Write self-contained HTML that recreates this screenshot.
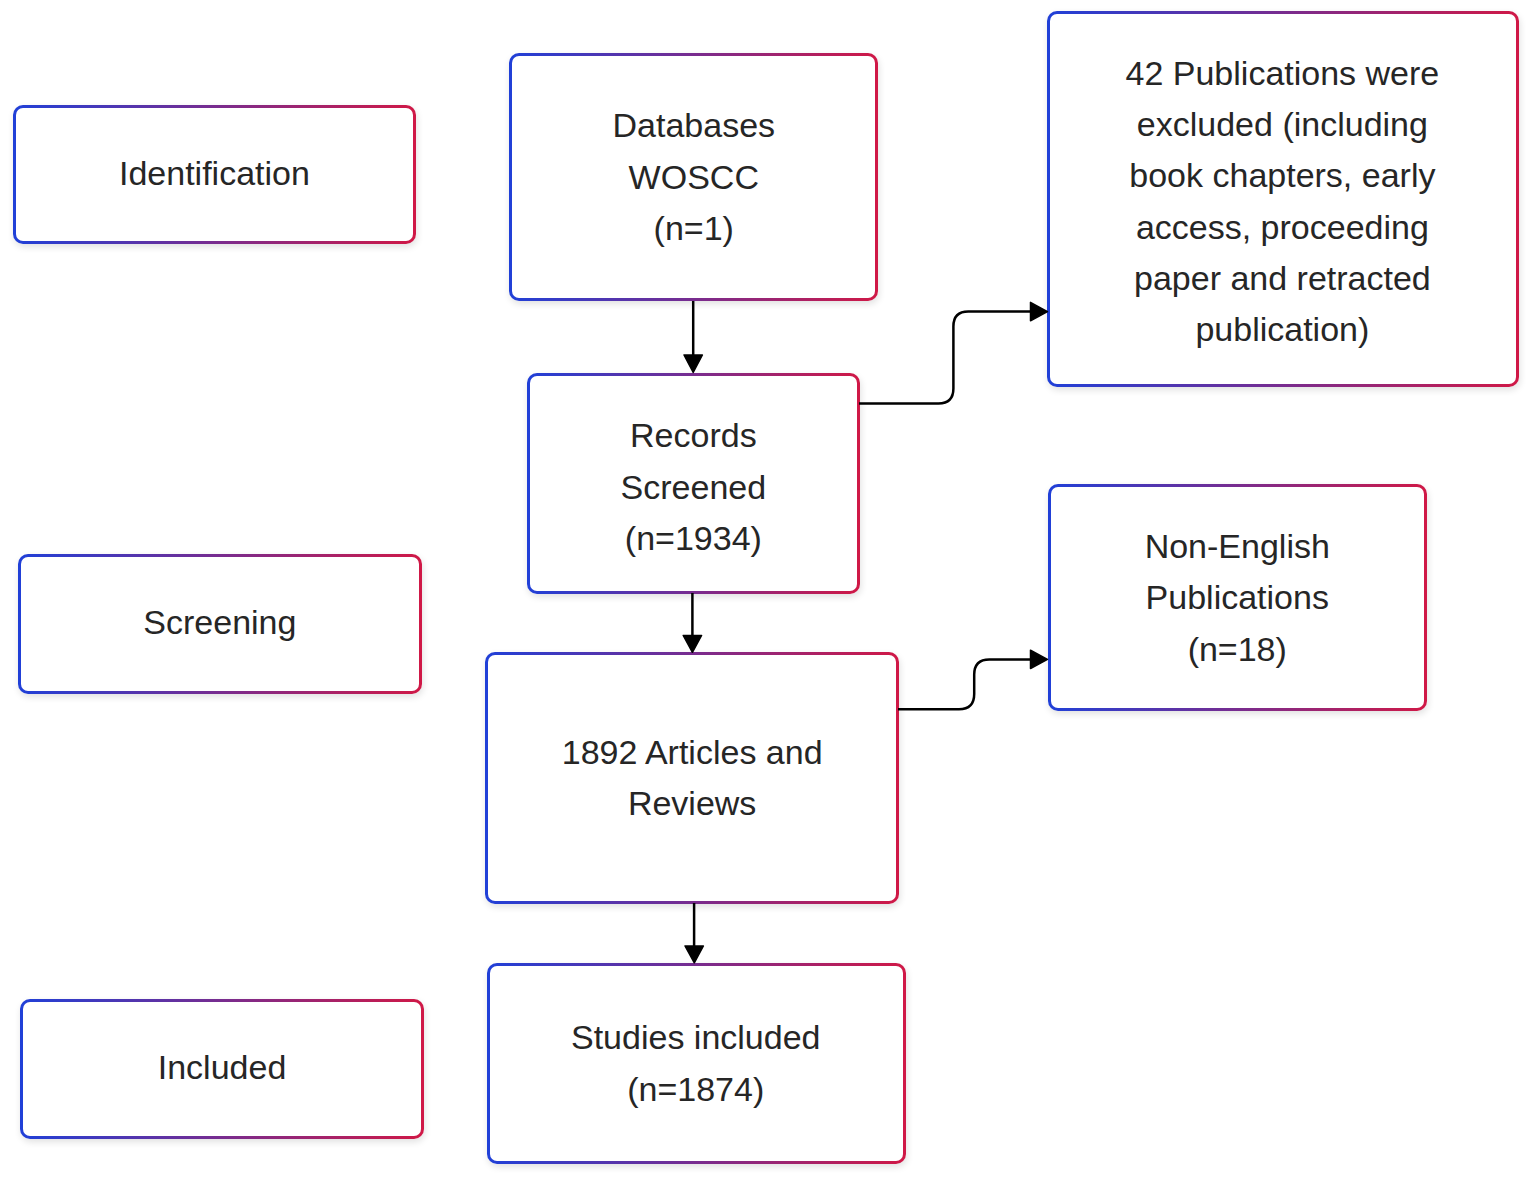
<!DOCTYPE html>
<html><head><meta charset="utf-8"><style>
html,body{margin:0;padding:0;background:#fff;}
body{width:1535px;height:1181px;position:relative;overflow:hidden;font-family:"Liberation Sans",sans-serif;}
.b{position:absolute;box-sizing:border-box;border:3px solid transparent;border-radius:10px;
background:linear-gradient(#fff,#fff) padding-box,linear-gradient(to right,#2040d8,#d01846) border-box;
box-shadow:1px 3px 7px rgba(0,0,0,0.12);display:flex;align-items:center;justify-content:center;text-align:center;
font-size:34px;line-height:51.3px;color:#262626;}
svg{position:absolute;left:0;top:0;}
#w{position:absolute;left:0;top:0;width:1535px;height:1181px;}
</style></head><body>
<div id="w"><div class="b" style="left:12.5px;top:105px;width:403.9px;height:138.5px"><div style="transform:translate(0px,-0.75px)">Identification</div></div><div class="b" style="left:17.6px;top:554.2px;width:404.6px;height:139.5px"><div style="transform:translate(0px,-1.2px)">Screening</div></div><div class="b" style="left:19.7px;top:999.2px;width:404.7px;height:139.5px"><div style="transform:translate(0px,-0.7px)">Included</div></div><div class="b" style="left:509.2px;top:53px;width:369.2px;height:248.4px"><div style="transform:translate(0px,-0.3px)">Databases<br>WOSCC<br>(n=1)</div></div><div class="b" style="left:527px;top:373px;width:332.7px;height:220.7px"><div style="transform:translate(0px,3.75px)">Records<br>Screened<br>(n=1934)</div></div><div class="b" style="left:484.9px;top:652.3px;width:414.5px;height:251.4px"><div style="transform:translate(0px,-0.4px)">1892 Articles and<br>Reviews</div></div><div class="b" style="left:487.3px;top:963px;width:418.5px;height:201.1px"><div style="transform:translate(-0.8px,-0.4px)">Studies included<br>(n=1874)</div></div><div class="b" style="left:1047px;top:10.5px;width:472.4px;height:376.3px"><div style="transform:translate(-0.8px,3.1px)">42 Publications were<br>excluded (including<br>book chapters, early<br>access, proceeding<br>paper and retracted<br>publication)</div></div><div class="b" style="left:1048px;top:483.6px;width:378.5px;height:227.1px"><div style="transform:translate(0px,1.0px)">Non-English<br>Publications<br>(n=18)</div></div>
<svg width="1535" height="1181" viewBox="0 0 1535 1181">
<g fill="none" stroke="#000" stroke-width="2.5">
<path d="M693.2 301 L693.2 356"/>
<path d="M692.4 593 L692.4 637"/>
<path d="M694.1 903 L694.1 947"/>
<path d="M859 403.4 L938.5 403.4 Q953.4 403.4 953.4 388.5 L953.4 326.5 Q953.4 311.6 968.3 311.6 L1031 311.6"/>
<path d="M898 709.2 L959 709.2 Q974.2 709.2 974.2 694 L974.2 674.6 Q974.2 659.4 989.4 659.4 L1031 659.4"/>
</g>
<g fill="#000" stroke="#000" stroke-width="1.5" stroke-linejoin="round">
<path d="M684 355 L702.4 355 L693.2 372.5 Z"/>
<path d="M683.2 635.5 L701.6 635.5 L692.4 652.3 Z"/>
<path d="M685 946 L703.4 946 L694.3 962.8 Z"/>
<path d="M1030.5 302.4 L1030.5 320.8 L1047.5 311.6 Z"/>
<path d="M1030.5 650.2 L1030.5 668.6 L1047.5 659.4 Z"/>
</g>
</svg></div>
</body></html>
